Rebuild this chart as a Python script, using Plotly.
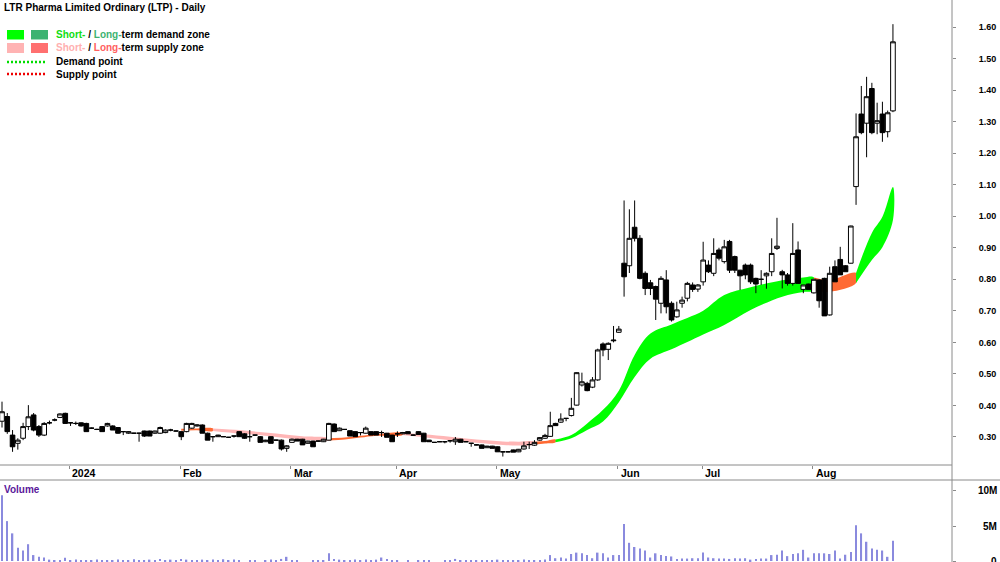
import plotly.graph_objects as go

W, H = 1000, 562
FONT = "Liberation Sans, Arial, sans-serif"

title_text = "LTR Pharma Limited Ordinary (LTP) - Daily"

# ---- daily candles (trading-day slots, Dec-2023 .. Aug-2024) ----
opens = [
    0.350, 0.365, 0.306, 0.280, 0.296, 0.333, 0.370, 0.333, 0.306, 0.345,
    0.354, 0.362, 0.375, 0.345, 0.343, 0.345, 0.343, 0.328, 0.324, 0.333,
    0.335, 0.335, 0.330, 0.317, 0.312, 0.312, 0.312, 0.319, 0.319, 0.312,
    0.312, 0.314, 0.322, 0.319, 0.317, 0.317, 0.328, 0.335, 0.338, 0.312,
    0.301, 0.301, 0.301, 0.299, 0.303, 0.317, 0.310, 0.301, 0.306, 0.301,
    0.285, 0.301, 0.290, 0.290, 0.264, 0.283, 0.293, 0.293, 0.280, 0.287,
    0.287, 0.285, 0.290, 0.341, 0.320, 0.324, 0.320, 0.317, 0.314, 0.312,
    0.317, 0.317, 0.314, 0.312, 0.306, 0.310, 0.310, 0.317, 0.306, 0.317,
    0.312, 0.290, 0.283, 0.285, 0.285, 0.288, 0.285, 0.293, 0.285, 0.280,
    0.275, 0.275, 0.266, 0.271, 0.269, 0.253, 0.253, 0.259, 0.253, 0.262,
    0.276, 0.274, 0.290, 0.296, 0.302, 0.343, 0.347, 0.359, 0.368, 0.401,
    0.465, 0.470, 0.458, 0.481, 0.595, 0.578, 0.605, 0.632, 0.851, 0.843,
    0.965, 0.930, 0.819, 0.789, 0.777, 0.724, 0.798, 0.724, 0.681, 0.724,
    0.740, 0.782, 0.769, 0.792, 0.845, 0.819, 0.893, 0.856, 0.920, 0.872,
    0.829, 0.845, 0.845, 0.803, 0.800, 0.811, 0.824, 0.898, 0.824, 0.814,
    0.787, 0.893, 0.768, 0.785, 0.757, 0.798, 0.803, 0.687, 0.840, 0.863,
    0.843, 0.851, 1.094, 1.324, 1.295, 1.405, 1.295, 1.324, 1.268, 1.334,
]
highs = [
    0.412, 0.376, 0.322, 0.296, 0.345, 0.401, 0.376, 0.338, 0.347, 0.352,
    0.359, 0.375, 0.377, 0.347, 0.349, 0.346, 0.345, 0.330, 0.326, 0.335,
    0.345, 0.337, 0.331, 0.318, 0.318, 0.313, 0.313, 0.320, 0.320, 0.320,
    0.333, 0.324, 0.326, 0.320, 0.319, 0.345, 0.345, 0.340, 0.340, 0.314,
    0.303, 0.307, 0.302, 0.300, 0.304, 0.318, 0.312, 0.322, 0.307, 0.303,
    0.291, 0.302, 0.291, 0.292, 0.274, 0.295, 0.294, 0.294, 0.288, 0.288,
    0.288, 0.294, 0.345, 0.343, 0.330, 0.325, 0.321, 0.318, 0.315, 0.333,
    0.318, 0.318, 0.320, 0.313, 0.307, 0.318, 0.316, 0.318, 0.307, 0.318,
    0.313, 0.291, 0.284, 0.286, 0.286, 0.289, 0.300, 0.294, 0.286, 0.281,
    0.276, 0.276, 0.272, 0.272, 0.270, 0.254, 0.254, 0.260, 0.262, 0.285,
    0.285, 0.290, 0.300, 0.310, 0.380, 0.345, 0.375, 0.360, 0.424, 0.505,
    0.504, 0.475, 0.490, 0.580, 0.600, 0.600, 0.652, 0.652, 1.050, 1.022,
    1.050, 0.940, 0.825, 0.798, 0.780, 0.810, 0.829, 0.730, 0.729, 0.745,
    0.792, 0.790, 0.785, 0.919, 0.860, 0.930, 0.900, 0.925, 0.925, 0.875,
    0.830, 0.850, 0.850, 0.805, 0.829, 0.822, 0.930, 0.995, 0.830, 0.820,
    0.978, 0.920, 0.782, 0.786, 0.800, 0.800, 0.805, 0.840, 0.860, 0.903,
    0.845, 0.970, 1.326, 1.413, 1.442, 1.423, 1.360, 1.363, 1.335, 1.609,
]
lows = [
    0.330, 0.310, 0.253, 0.260, 0.290, 0.322, 0.318, 0.300, 0.303, 0.340,
    0.350, 0.360, 0.343, 0.335, 0.338, 0.333, 0.317, 0.326, 0.322, 0.317,
    0.333, 0.322, 0.310, 0.306, 0.310, 0.310, 0.285, 0.300, 0.303, 0.310,
    0.310, 0.312, 0.318, 0.318, 0.290, 0.315, 0.326, 0.333, 0.312, 0.290,
    0.285, 0.300, 0.300, 0.298, 0.298, 0.300, 0.294, 0.285, 0.305, 0.283,
    0.284, 0.280, 0.289, 0.257, 0.253, 0.282, 0.287, 0.275, 0.279, 0.269,
    0.286, 0.284, 0.289, 0.317, 0.319, 0.323, 0.303, 0.301, 0.305, 0.311,
    0.306, 0.306, 0.300, 0.299, 0.285, 0.300, 0.309, 0.310, 0.305, 0.308,
    0.285, 0.285, 0.282, 0.284, 0.280, 0.282, 0.275, 0.283, 0.284, 0.269,
    0.274, 0.264, 0.265, 0.264, 0.253, 0.238, 0.252, 0.252, 0.252, 0.260,
    0.262, 0.272, 0.288, 0.294, 0.300, 0.335, 0.345, 0.350, 0.365, 0.400,
    0.460, 0.445, 0.455, 0.478, 0.556, 0.544, 0.600, 0.630, 0.745, 0.820,
    0.920, 0.800, 0.750, 0.750, 0.671, 0.692, 0.692, 0.666, 0.678, 0.710,
    0.730, 0.760, 0.760, 0.780, 0.820, 0.810, 0.860, 0.850, 0.820, 0.820,
    0.766, 0.800, 0.785, 0.756, 0.782, 0.770, 0.810, 0.893, 0.771, 0.780,
    0.780, 0.787, 0.756, 0.768, 0.755, 0.710, 0.684, 0.685, 0.792, 0.814,
    0.824, 0.850, 1.036, 1.260, 1.187, 1.260, 1.260, 1.236, 1.250, 1.330,
]
closes = [
    0.380, 0.317, 0.269, 0.290, 0.333, 0.364, 0.322, 0.306, 0.343, 0.345,
    0.354, 0.373, 0.343, 0.345, 0.343, 0.335, 0.317, 0.328, 0.324, 0.317,
    0.343, 0.322, 0.312, 0.317, 0.317, 0.312, 0.312, 0.303, 0.303, 0.319,
    0.330, 0.322, 0.322, 0.319, 0.301, 0.343, 0.343, 0.338, 0.312, 0.290,
    0.301, 0.306, 0.301, 0.299, 0.303, 0.301, 0.296, 0.301, 0.306, 0.283,
    0.290, 0.280, 0.290, 0.262, 0.272, 0.293, 0.287, 0.275, 0.287, 0.269,
    0.287, 0.293, 0.343, 0.317, 0.328, 0.324, 0.303, 0.301, 0.314, 0.328,
    0.306, 0.306, 0.314, 0.299, 0.285, 0.310, 0.314, 0.310, 0.306, 0.308,
    0.285, 0.285, 0.283, 0.285, 0.285, 0.288, 0.293, 0.283, 0.285, 0.280,
    0.275, 0.264, 0.271, 0.264, 0.253, 0.253, 0.253, 0.252, 0.261, 0.272,
    0.276, 0.283, 0.298, 0.305, 0.336, 0.336, 0.357, 0.359, 0.391, 0.504,
    0.475, 0.447, 0.481, 0.576, 0.576, 0.597, 0.607, 0.642, 0.808, 0.930,
    0.930, 0.803, 0.771, 0.771, 0.737, 0.803, 0.713, 0.671, 0.703, 0.734,
    0.787, 0.768, 0.782, 0.861, 0.824, 0.882, 0.867, 0.903, 0.829, 0.829,
    0.811, 0.814, 0.792, 0.785, 0.800, 0.819, 0.882, 0.905, 0.814, 0.787,
    0.882, 0.787, 0.782, 0.768, 0.800, 0.732, 0.684, 0.819, 0.792, 0.814,
    0.824, 0.969, 1.252, 1.265, 1.379, 1.265, 1.303, 1.265, 1.328, 1.553,
]
# volume in millions of shares
volume_m = [
    9.4, 5.7, 3.95, 1.9, 1.5, 2.4, 0.85, 0.6, 0.5, 0.2,
    0.1, 0.15, 0.45, 0.15, 0.2, 0.1, 0.15, 0.1, 0.2, 0.15,
    0.1, 0.15, 0.2, 0.1, 0.15, 0.25, 0.1, 0.15, 0.2, 0.1,
    0.3, 0.15, 0.2, 0.15, 0.3, 0.2, 0.1, 0.15, 0.2, 0.1,
    0.2, 0.15, 0.25, 0.1, 0.2, 0.05, 0.0, 0.15, 0.1, 0.0,
    0.05, 0.2, 0.1, 0.3, 0.6, 0.15, 0.1, 0.0, 0.0, 0.05,
    0.1, 0.15, 1.1, 0.3, 0.2, 0.15, 0.1, 0.2, 0.15, 0.2,
    0.1, 0.2, 0.5, 0.3, 0.15, 0.1, 0.0, 0.05, 0.0, 0.1,
    0.15, 0.1, 0.0, 0.0, 0.05, 0.1, 0.3, 0.15, 0.1, 0.05,
    0.1, 0.1, 0.15, 0.1, 0.2, 0.1, 0.05, 0.15, 0.1, 0.2,
    0.15, 0.1, 0.15, 0.2, 0.85, 0.4, 0.5, 0.35, 1.0, 1.2,
    1.1, 0.85, 0.4, 1.2, 1.1, 0.5, 0.85, 0.85, 5.3, 2.6,
    2.0, 1.8, 1.5, 0.5, 1.1, 0.85, 0.7, 0.65, 0.3, 0.35,
    0.35, 0.4, 0.4, 1.2, 0.5, 0.4, 0.35, 0.35, 0.3, 0.4,
    0.35, 0.4, 0.2, 0.3, 0.35, 0.35, 0.85, 0.9, 1.5, 0.7,
    1.0, 1.1, 1.6, 0.5, 1.1, 1.1, 1.1, 1.0, 1.5, 0.35,
    0.9, 1.3, 5.1, 3.95, 2.75, 1.8, 1.6, 1.5, 0.6, 2.9,
]

# ---- demand / supply zone band (knots) ----
band_idx = [34, 37, 40, 45, 47, 52, 57, 62, 65, 68, 71, 76, 80, 85, 90, 95, 98,
            101, 103, 105, 108, 111, 114, 117, 120, 123, 127, 130, 133, 137, 142,
            148, 152, 154, 157, 162, 165, 167, 169]
band_upper = [0.326, 0.327, 0.327, 0.322, 0.319, 0.311, 0.302, 0.296, 0.298, 0.304,
              0.309, 0.313, 0.309, 0.301, 0.292, 0.286, 0.285, 0.285, 0.287, 0.292,
              0.306, 0.343, 0.386, 0.447, 0.560, 0.628, 0.657, 0.677, 0.700, 0.750,
              0.775, 0.797, 0.806, 0.806, 0.798, 0.820, 0.947, 0.998, 1.093]
band_lower = [0.320, 0.321, 0.319, 0.311, 0.309, 0.300, 0.292, 0.289, 0.292, 0.298,
              0.304, 0.306, 0.299, 0.290, 0.282, 0.275, 0.273, 0.276, 0.279, 0.283,
              0.296, 0.322, 0.349, 0.410, 0.490, 0.548, 0.578, 0.601, 0.625, 0.655,
              0.703, 0.745, 0.760, 0.764, 0.760, 0.788, 0.861, 0.902, 0.988]
# zone type of the interval that starts at each knot
band_kind = ["LS", "LS", "SS", "SS", "SS", "SS", "SS", "LS", "LS", "LS",
             "LS", "SS", "SS", "SS", "SS", "SS", "SS", "LS", "LS", "SD",
             "SD", "SD", "SD", "SD", "SD", "SD", "SD", "SD", "SD", "SD",
             "SD", "SD", "SD", "LS", "LS", "SD", "SD", "SD", "SD"]
zone_colors = {"SD": "#00ff00", "LD": "#3cb371", "SS": "#ffb6b6", "LS": "#ff6a33"}

month_labels = ["2024", "Feb", "Mar", "Apr", "May", "Jun", "Jul", "Aug"]
month_first_idx = [13, 34, 55, 75, 94, 117, 133, 154]

price_ticks = [0.30, 0.40, 0.50, 0.60, 0.70, 0.80, 0.90, 1.00, 1.10, 1.20,
               1.30, 1.40, 1.50, 1.60]
volume_ticks = [0, 5, 10]
volume_tick_labels = ["0", "5M", "10M"]

# ---------------------------------------------------------------
x = list(range(len(opens)))
PRICE_RANGE = [0.2112, 1.6856]
XRANGE = [-0.38, 180.2]
px = lambda v: v / W
py = lambda v: 1 - v / H
tick_pos = [m - 0.2 for m in month_first_idx]

fig = go.Figure()

# zone bands, split into runs of same kind
runs = []
start = 0
for k in range(1, len(band_idx)):
    if band_kind[k] != band_kind[start] or k == len(band_idx) - 1:
        runs.append((start, k, band_kind[start]))
        start = k
for a, b, kind in runs:
    xs = band_idx[a:b + 1]
    up = band_upper[a:b + 1]
    lo = band_lower[a:b + 1]
    fig.add_trace(go.Scatter(
        x=xs + xs[::-1], y=up + lo[::-1], mode="lines", fill="toself",
        fillcolor=zone_colors[kind], line=dict(width=0, color=zone_colors[kind]),
        line_shape="spline",
        xaxis="x", yaxis="y", hoverinfo="skip", showlegend=False))

fig.add_trace(go.Candlestick(
    x=x, open=opens, high=highs, low=lows, close=closes,
    increasing=dict(line=dict(color="black", width=1), fillcolor="white"),
    decreasing=dict(line=dict(color="black", width=1), fillcolor="black"),
    whiskerwidth=0, xaxis="x", yaxis="y3", hoverinfo="skip", showlegend=False))

fig.add_trace(go.Bar(
    x=x, y=volume_m, width=0.28, marker=dict(color="#8a8ade", line=dict(width=0)),
    xaxis="x2", yaxis="y2", hoverinfo="skip", showlegend=False))

axis_gray = "#8a8a8a"
bold9 = dict(family=FONT, size=9, color="black", weight="bold")

fig.update_layout(
    width=W, height=H, margin=dict(l=0, r=0, t=0, b=0),
    paper_bgcolor="white", plot_bgcolor="white", showlegend=False,
    hovermode=False, boxgap=0.12, boxgroupgap=0,
    xaxis=dict(domain=[0, 0.952], range=XRANGE, anchor="y",
               showticklabels=False, ticks="outside", ticklen=3,
               tickcolor=axis_gray, tickvals=tick_pos,
               showgrid=False, zeroline=False, showline=False,
               rangeslider=dict(visible=False)),
    yaxis=dict(domain=[py(465), 1], range=PRICE_RANGE, side="right", anchor="x",
               tickvals=price_ticks, ticktext=[f"{v:.2f}" for v in price_ticks],
               ticks="outside", ticklen=3, tickcolor=axis_gray,
               tickfont=bold9, ticklabelstandoff=21,
               showgrid=False, zeroline=False, showline=False),
    yaxis3=dict(overlaying="y", range=PRICE_RANGE, visible=False, side="right"),
    xaxis2=dict(domain=[0, 0.952], range=XRANGE, anchor="y2", matches="x",
                showticklabels=False, ticks="", showgrid=False, zeroline=False),
    yaxis2=dict(domain=[0, py(480)], range=[-0.14, 11.57], side="right",
                anchor="x2", tickvals=volume_ticks, showticklabels=False,
                ticks="outside", ticklen=3, tickcolor=axis_gray,
                showgrid=False, zeroline=False, showline=False),
)

shapes = [
    dict(type="line", xref="paper", yref="paper", x0=0, x1=0.952,
         y0=py(465), y1=py(465), line=dict(color=axis_gray, width=1)),
    dict(type="line", xref="paper", yref="paper", x0=0, x1=1,
         y0=py(480), y1=py(480), line=dict(color=axis_gray, width=1)),
    dict(type="line", xref="paper", yref="paper", x0=0.952, x1=0.952,
         y0=0, y1=1, line=dict(color=axis_gray, width=1)),
    # legend swatches
    dict(type="rect", xref="paper", yref="paper", x0=px(7), x1=px(24),
         y0=py(39.5), y1=py(30), fillcolor=zone_colors["SD"], line=dict(width=0)),
    dict(type="rect", xref="paper", yref="paper", x0=px(31), x1=px(48),
         y0=py(39.5), y1=py(30), fillcolor=zone_colors["LD"], line=dict(width=0)),
    dict(type="rect", xref="paper", yref="paper", x0=px(7), x1=px(24),
         y0=py(53), y1=py(43), fillcolor="#ffb3b3", line=dict(width=0)),
    dict(type="rect", xref="paper", yref="paper", x0=px(31), x1=px(48),
         y0=py(53), y1=py(43), fillcolor="#ff7070", line=dict(width=0)),
    dict(type="line", xref="paper", yref="paper", x0=px(7), x1=px(46),
         y0=py(62), y1=py(62), line=dict(color="#00dd00", width=2.5, dash="2px,2px")),
    dict(type="line", xref="paper", yref="paper", x0=px(7), x1=px(46),
         y0=py(74), y1=py(74), line=dict(color="#ee0000", width=2.5, dash="2px,2px")),
]
fig.update_layout(shapes=shapes)

bold10 = dict(family=FONT, size=10, color="black", weight="bold")
ann = [
    dict(text=title_text, x=px(2), y=py(7), xref="paper", yref="paper",
         xanchor="left", yanchor="middle", showarrow=False, font=bold10),
    dict(text="<span style='color:#11dd11'>Short-</span> / "
              "<span style='color:#3cb371'>Long-</span>term demand zone",
         x=px(54), y=py(35), xref="paper", yref="paper", xanchor="left",
         yanchor="middle", showarrow=False, font=bold10),
    dict(text="<span style='color:#ffb0b0'>Short-</span> / "
              "<span style='color:#ff6060'>Long-</span>term supply zone",
         x=px(54), y=py(48), xref="paper", yref="paper", xanchor="left",
         yanchor="middle", showarrow=False, font=bold10),
    dict(text="Demand point", x=px(54), y=py(62), xref="paper", yref="paper",
         xanchor="left", yanchor="middle", showarrow=False, font=bold10),
    dict(text="Supply point", x=px(54), y=py(74), xref="paper", yref="paper",
         xanchor="left", yanchor="middle", showarrow=False, font=bold10),
    dict(text="Volume", x=px(2), y=py(489), xref="paper", yref="paper",
         xanchor="left", yanchor="middle", showarrow=False,
         font=dict(family=FONT, size=10, color="#5a189a", weight="bold")),
]
for lab, t in zip(month_labels, tick_pos):
    ann.append(dict(text=lab, x=t, xref="x", y=py(473), yref="paper",
                    xanchor="left", yanchor="middle", xshift=1, showarrow=False,
                    font=dict(family=FONT, size=10.5, color="black", weight="bold")))
for v, lab in zip(volume_ticks, volume_tick_labels):
    ann.append(dict(text=lab, x=px(999), xref="paper", y=v, yref="y2",
                    xanchor="right", yanchor="middle", showarrow=False,
                    font=dict(family=FONT, size=10, color="black", weight="bold")))
fig.update_layout(annotations=ann)

fig.write_html("out.html")
